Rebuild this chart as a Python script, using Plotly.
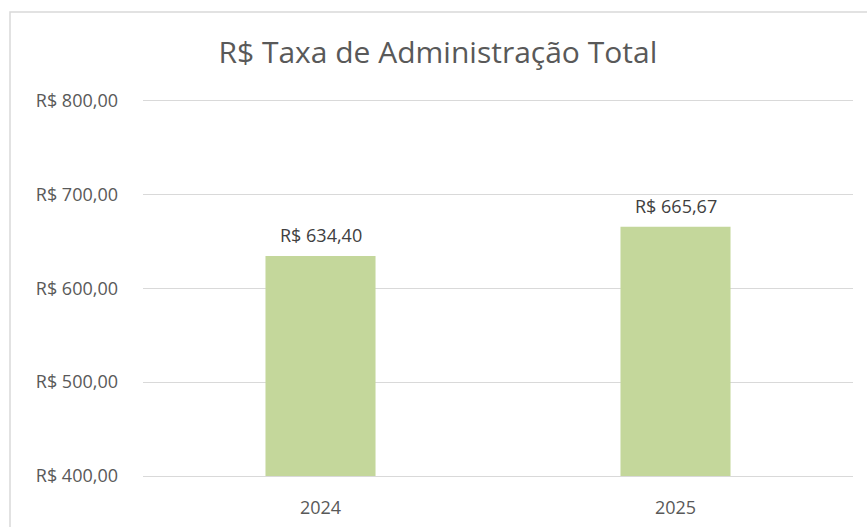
import plotly.graph_objects as go

categories = ["2024", "2025"]
values = [634.40, 665.67]
value_labels = ["R$ 634,40", "R$ 665,67"]
tick_values = [400, 500, 600, 700, 800]
tick_labels = ["R$ 400,00", "R$ 500,00", "R$ 600,00", "R$ 700,00", "R$ 800,00"]
title = "R$ Taxa de Administração Total"

FONT = "Open Sans, Liberation Sans, sans-serif"

fig = go.Figure(
    go.Bar(
        x=categories,
        y=values,
        marker=dict(color="#c4d79b", line=dict(width=0)),
        width=0.31,
        hoverinfo="x+y",
    )
)

for i, (val, lab) in enumerate(zip(values, value_labels)):
    fig.add_annotation(
        x=i,
        y=val,
        text=lab,
        showarrow=False,
        yanchor="middle",
        yshift=21,
        font=dict(family=FONT, size=18, color="#404040"),
    )

fig.update_layout(
    width=867,
    height=527,
    margin=dict(l=143, r=14, t=96, b=51),
    paper_bgcolor="white",
    plot_bgcolor="white",
    showlegend=False,
    title=dict(
        text=title,
        x=0.505,
        xref="container",
        xanchor="center",
        y=1 - 52 / 527,
        yref="container",
        yanchor="middle",
        font=dict(family=FONT, size=30, color="#595959"),
    ),
    shapes=[
        dict(
            type="rect",
            xref="paper",
            yref="paper",
            x0=(10 - 143) / 710,
            x1=1.2,
            y0=-0.3,
            y1=(476 - 12) / 380,
            line=dict(color="#d9d9d9", width=1.5),
            fillcolor="rgba(0,0,0,0)",
            layer="below",
        )
    ],
)

fig.update_yaxes(
    range=[400, 805],
    tickvals=tick_values,
    ticktext=tick_labels,
    showgrid=True,
    gridcolor="#d9d9d9",
    gridwidth=1,
    zeroline=False,
    showline=False,
    ticks="",
    automargin=False,
    ticklabelstandoff=24,
    tickfont=dict(family=FONT, size=18, color="#595959"),
)
fig.update_xaxes(
    type="category",
    range=[-0.5, len(categories) - 0.5],
    showline=True,
    linecolor="#d9d9d9",
    linewidth=1,
    ticks="",
    automargin=False,
    ticklabelstandoff=15,
    tickfont=dict(family=FONT, size=18, color="#595959"),
)

fig.write_html(
    "out.html",
    config={"displayModeBar": False},
    post_script="document.body.style.margin='0';document.body.style.overflow='hidden';",
)
